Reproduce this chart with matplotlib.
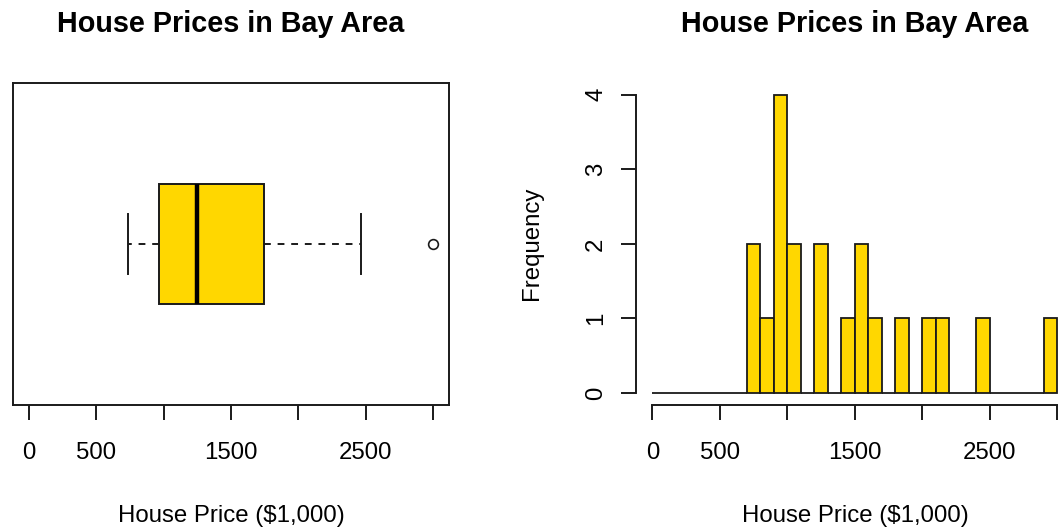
"""Boxplot + histogram of Bay Area house prices (R base-graphics look)."""

import matplotlib

matplotlib.use("Agg")
import matplotlib.pyplot as plt  # noqa: E402

plt.rcParams["font.family"] = ["Liberation Sans", "DejaVu Sans"]

TITLE = "House Prices in Bay Area"
XLABEL = "House Price ($1,000)"
GOLD = "#FFD700"
EDGE = "#1a1a1a"

# box plot summary ($1,000)
box_q1 = 963
box_median = 1246
box_q3 = 1742
whisker_low = 734
whisker_high = 2465
outliers = [3000]

# histogram: 100-wide bins from 0 to 3000
bin_edges = list(range(0, 3001, 100))
counts = [0, 0, 0, 0, 0, 0, 0, 2, 1, 4,
          2, 0, 2, 0, 1, 2, 1, 0, 1, 0,
          1, 1, 0, 0, 1, 0, 0, 0, 0, 1]

x_ticks = [0, 500, 1000, 1500, 2000, 2500, 3000]
x_ticklabels = ["0", "500", "", "1500", "", "2500", ""]
y_ticks = [0, 1, 2, 3, 4]

W, H = 1059, 529
FS = 17.3


def px(x0, y0, x1, y1):
    # pixel box (top-left origin) -> figure fraction rect
    return [x0 / W, 1 - y1 / H, (x1 - x0) / W, (y1 - y0) / H]


fig = plt.figure(figsize=(W / 100, H / 100), dpi=100)

# ---- left: horizontal box plot
ax1 = fig.add_axes(px(13, 82.7, 449.2, 405))
stats = [{
    "q1": box_q1, "med": box_median, "q3": box_q3,
    "whislo": whisker_low, "whishi": whisker_high, "fliers": outliers,
}]
ax1.bxp(stats, positions=[1], widths=0.4, capwidths=0.2, vert=False,
        patch_artist=True,
        boxprops=dict(facecolor=GOLD, edgecolor=EDGE, linewidth=1.4),
        medianprops=dict(color="black", linewidth=3.2, solid_capstyle="butt"),
        whiskerprops=dict(color=EDGE, linewidth=1.4, linestyle=(0, (3.5, 3.5))),
        capprops=dict(color=EDGE, linewidth=1.4),
        flierprops=dict(marker="o", markerfacecolor="none",
                        markeredgecolor=EDGE, markersize=7, markeredgewidth=1.2))
ax1.set_xlim(-120, 3120)
ax1.set_ylim(0.46, 1.54)
ax1.set_yticks([])
for s in ax1.spines.values():
    s.set_linewidth(1.4)
    s.set_color(EDGE)

# ---- right: histogram (extends past the right edge, as in the original)
ax2 = fig.add_axes(px(636.3, 82.7, 1073.5, 405))
ax2.bar(bin_edges[:-1], counts, width=100, align="edge",
        color=GOLD, edgecolor=EDGE, linewidth=1.3)
ax2.set_xlim(-120, 3120)
ax2.set_ylim(-0.16, 4.16)
for side in ("top", "right"):
    ax2.spines[side].set_visible(False)
for side in ("left", "bottom"):
    ax2.spines[side].set_linewidth(1.4)
    ax2.spines[side].set_color(EDGE)
ax2.spines["bottom"].set_bounds(0, 3000)
ax2.spines["left"].set_bounds(0, 4)
ax2.set_yticks(y_ticks)
ax2.set_yticklabels([str(v) for v in y_ticks], rotation=90, va="center")
ax2.tick_params(axis="y", length=11, width=1.4, color=EDGE, pad=10,
                labelsize=FS)

for ax in (ax1, ax2):
    ax.set_xticks(x_ticks)
    ax.set_xticklabels(x_ticklabels)
    ax.tick_params(axis="x", length=11, width=1.4, color=EDGE, pad=15.5,
                   labelsize=FS)
    ax.patch.set_alpha(0)

# titles and axis labels
for cx in (231, 855):
    fig.text(cx / W, 1 - 32 / H, TITLE, ha="center", va="baseline",
             fontsize=20.7, fontweight="bold")
    fig.text(cx / W, 1 - 521.7 / H, XLABEL, ha="center", va="baseline",
             fontsize=FS)
fig.text(532 / W, 1 - 243.5 / H, "Frequency", rotation=90,
         ha="center", va="center", fontsize=FS)

fig.savefig("out.png", dpi=100)
